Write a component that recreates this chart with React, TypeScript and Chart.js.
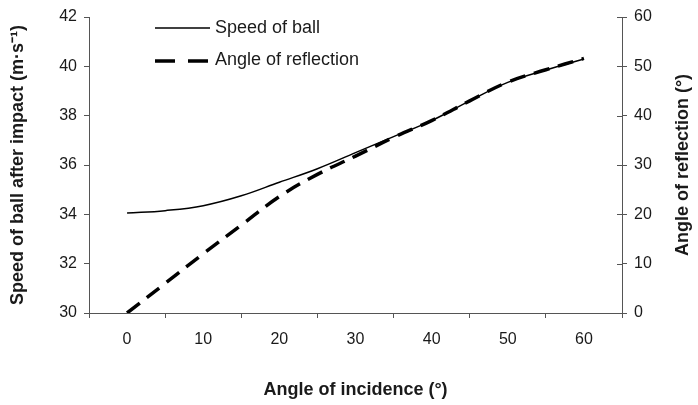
import React, { useEffect, useRef } from 'react';
import { Chart, registerables } from 'chart.js';

Chart.register(...registerables);

// Data
const incidence = [0, 5, 10, 15, 20, 25, 30, 35, 40, 45, 50, 55, 60];
const speedOfBall = [34.05, 34.15, 34.35, 34.75, 35.3, 35.85, 36.5, 37.15, 37.8, 38.6, 39.35, 39.85, 40.3];
const angleOfReflection = [0, 6, 12, 17.8, 23.6, 28.1, 31.8, 35.6, 39, 43, 46.8, 49.3, 51.6];

// Axis ticks
const xTickLabels = [0, 10, 20, 30, 40, 50, 60];
const xTickMarks = [-5, 5, 15, 25, 35, 45, 55, 65];
const leftTicks = [30, 32, 34, 36, 38, 40, 42];
const rightTicks = [0, 10, 20, 30, 40, 50, 60];

const rightTitle = 'Angle of reflection (°)';

const FONT = "'Liberation Sans', Arial, sans-serif";
const AXIS = '#555';
const TEXT = '#1a1a1a';

export default function App() {
  const ref = useRef<HTMLCanvasElement | null>(null);

  useEffect(() => {
    document.body.style.margin = '0';
    const canvas = ref.current;
    if (!canvas) return;

    const overlay = {
      id: 'overlay',
      afterDraw(chart: any) {
        const ctx = chart.ctx;
        const area = chart.chartArea;
        const y1 = chart.scales.y1;
        ctx.save();
        // inner half of right-axis cross ticks
        ctx.strokeStyle = AXIS;
        ctx.lineWidth = 1;
        ctx.beginPath();
        rightTicks.forEach((v) => {
          const py = Math.round(y1.getPixelForValue(v)) + 0.5;
          ctx.moveTo(area.right - 5, py);
          ctx.lineTo(area.right, py);
        });
        ctx.stroke();

        // right axis title, reading bottom-to-top
        ctx.save();
        ctx.translate(y1.right - 15, (area.top + area.bottom) / 2);
        ctx.rotate(-Math.PI / 2);
        ctx.fillStyle = TEXT;
        ctx.font = `bold 18px ${FONT}`;
        ctx.textAlign = 'center';
        ctx.textBaseline = 'middle';
        ctx.fillText(rightTitle, 0, 0);
        ctx.restore();

        // legend
        const ds = chart.data.datasets;
        ctx.fillStyle = TEXT;
        ctx.font = `18px ${FONT}`;
        ctx.textBaseline = 'middle';
        ctx.textAlign = 'left';
        ctx.strokeStyle = '#000';
        ctx.lineWidth = 1.5;
        ctx.setLineDash([]);
        ctx.beginPath();
        ctx.moveTo(155, 28);
        ctx.lineTo(210, 28);
        ctx.stroke();
        ctx.fillText(ds[0].label, 215, 28);
        ctx.lineWidth = 3.5;
        ctx.setLineDash([20, 13]);
        ctx.beginPath();
        ctx.moveTo(155, 61);
        ctx.lineTo(208, 61);
        ctx.stroke();
        ctx.setLineDash([]);
        ctx.fillText(ds[1].label, 215, 60);
        ctx.restore();
      },
    };

    const chart = new Chart(canvas, {
      type: 'line',
      data: {
        datasets: [
          {
            label: 'Speed of ball',
            data: incidence.map((x, i) => ({ x, y: speedOfBall[i] })),
            borderColor: '#000',
            borderWidth: 1.5,
            pointRadius: 0,
            tension: 0.4,
            yAxisID: 'y',
          },
          {
            label: 'Angle of reflection',
            data: incidence.map((x, i) => ({ x, y: angleOfReflection[i] })),
            borderColor: '#000',
            borderWidth: 3.5,
            borderDash: [16, 9],
            pointRadius: 0,
            tension: 0.4,
            yAxisID: 'y1',
          },
        ],
      },
      options: {
        responsive: false,
        animation: false,
        devicePixelRatio: 1,
        layout: { padding: { top: 17, left: 0, right: 0, bottom: 0 } },
        plugins: { legend: { display: false }, tooltip: { enabled: false } },
        scales: {
          x: {
            type: 'linear',
            min: -5,
            max: 65,
            afterBuildTicks: (s: any) => {
              s.ticks = [...xTickMarks, ...xTickLabels].sort((a, b) => a - b).map((v) => ({ value: v }));
            },
            afterFit: (s: any) => {
              s.height = 92;
            },
            ticks: {
              autoSkip: false,
              maxRotation: 0,
              padding: 12,
              color: TEXT,
              font: { family: FONT, size: 16 },
              callback: (v: any) => (xTickLabels.includes(Number(v)) ? String(v) : ''),
            },
            grid: {
              drawOnChartArea: false,
              drawTicks: true,
              tickLength: 5,
              tickColor: (c: any) => (c.tick && xTickMarks.includes(c.tick.value) ? AXIS : 'rgba(0,0,0,0)'),
            },
            border: { display: true, color: AXIS, width: 1 },
            title: {
              display: true,
              text: 'Angle of incidence (°)',
              color: TEXT,
              font: { family: FONT, size: 18, weight: 'bold' },
              padding: { top: 0, bottom: 4 },
            },
          },
          y: {
            position: 'left',
            min: 30,
            max: 42,
            afterBuildTicks: (s: any) => {
              s.ticks = leftTicks.map((v) => ({ value: v }));
            },
            afterFit: (s: any) => {
              s.width = 89;
            },
            ticks: {
              padding: 7,
              color: TEXT,
              font: { family: FONT, size: 16 },
            },
            grid: { drawOnChartArea: false, drawTicks: true, tickLength: 5, tickColor: AXIS },
            border: { display: true, color: AXIS, width: 1 },
            title: {
              display: true,
              text: 'Speed of ball after impact (m·s⁻¹)',
              color: TEXT,
              font: { family: FONT, size: 18, weight: 'bold' },
              padding: { top: 7, bottom: 0 },
            },
          },
          y1: {
            position: 'right',
            min: 0,
            max: 60,
            afterBuildTicks: (s: any) => {
              s.ticks = rightTicks.map((v) => ({ value: v }));
            },
            afterFit: (s: any) => {
              s.width = 76;
            },
            ticks: {
              padding: 7,
              color: TEXT,
              font: { family: FONT, size: 16 },
            },
            grid: { drawOnChartArea: false, drawTicks: true, tickLength: 5, tickColor: AXIS },
            border: { display: true, color: AXIS, width: 1 },
            title: { display: false },
          },
        },
      },
      plugins: [overlay],
    } as any);

    return () => chart.destroy();
  }, []);

  return (
    <div style={{ width: 698, height: 405, background: '#fff' }}>
      <canvas ref={ref} width={698} height={405} style={{ display: 'block' }} />
    </div>
  );
}
